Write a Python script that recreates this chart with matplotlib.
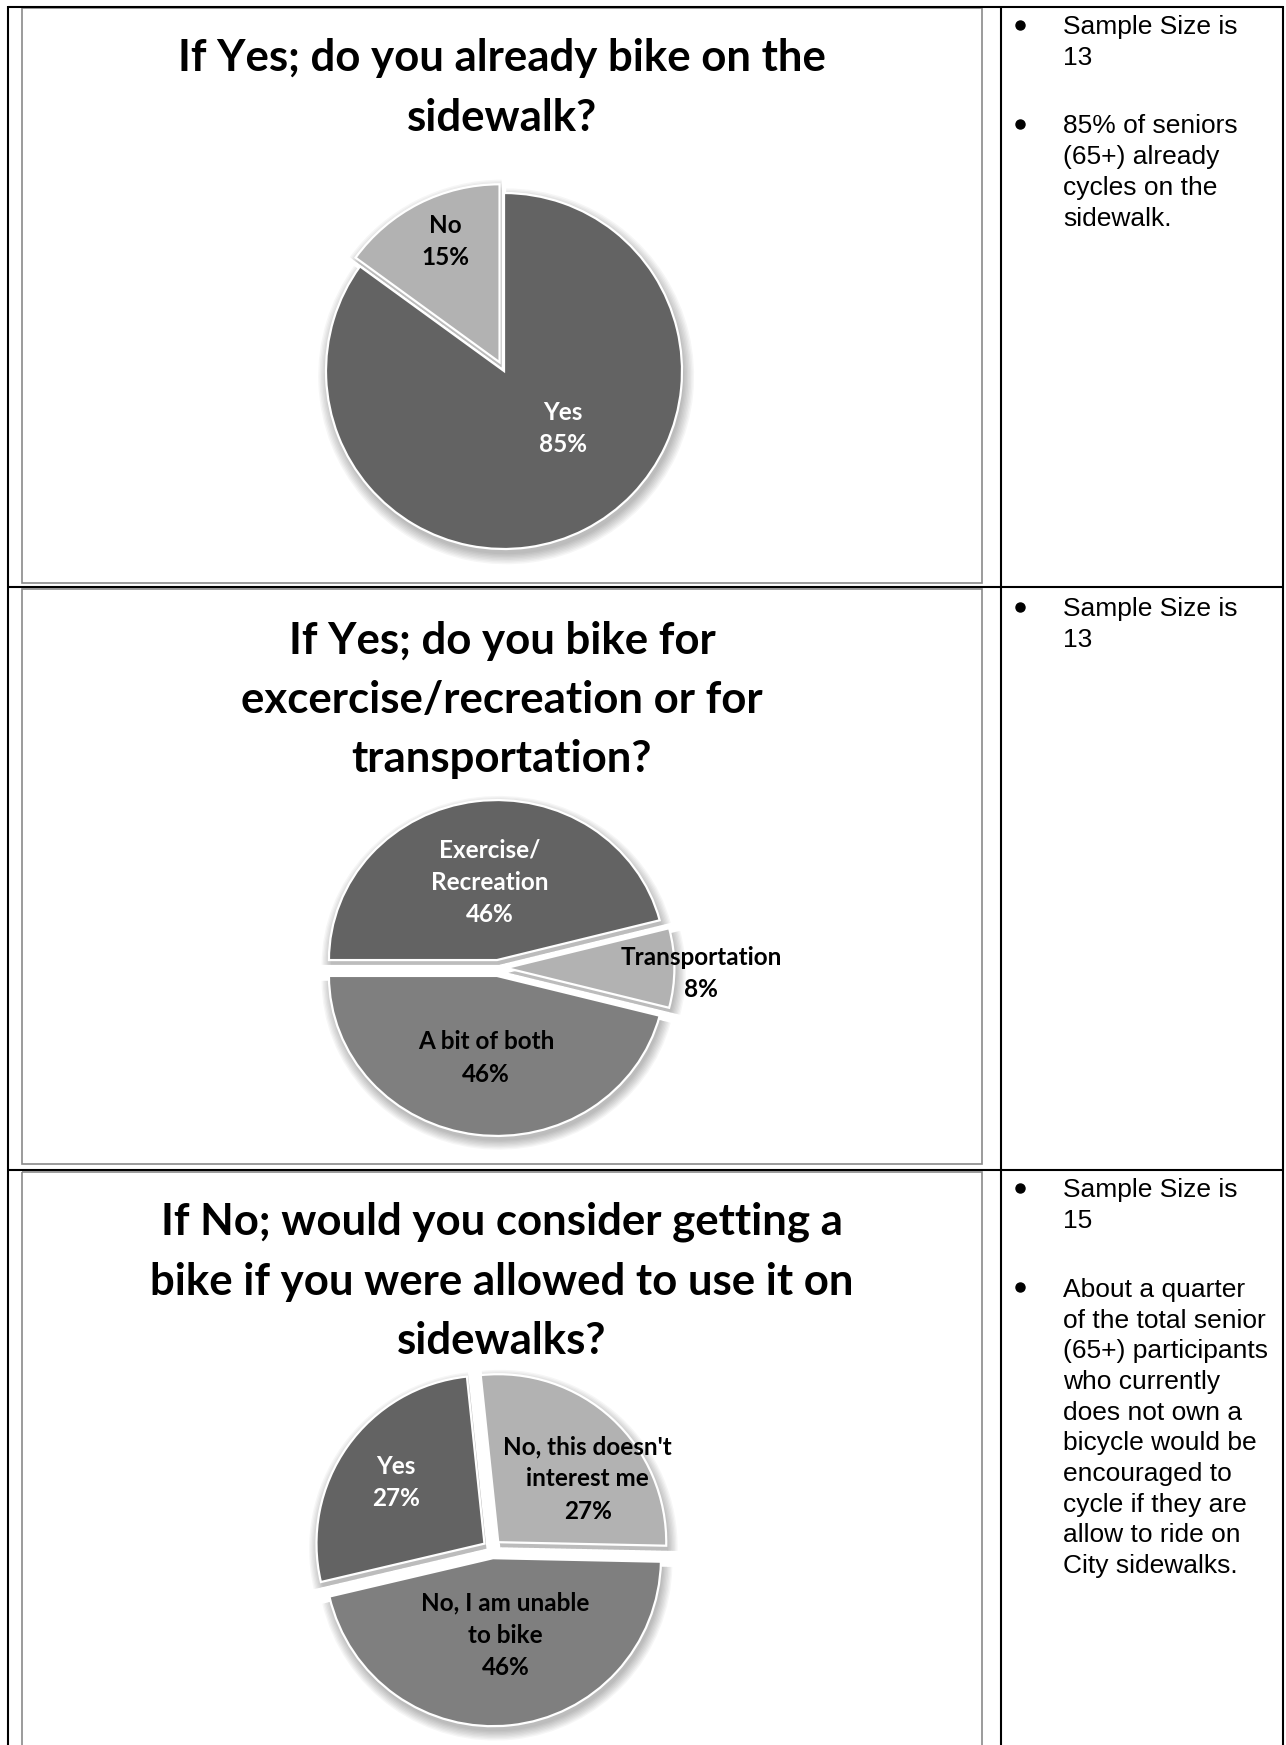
import matplotlib.pyplot as plt
import matplotlib.patches as mpatches

W, H = 1286, 1745

# chart data
q1_title = ["If Yes; do you already bike on the", "sidewalk?"]
q1_labels = [["Yes"], ["No"]]
q1_values = [85, 15]

q2_title = ["If Yes; do you bike for", "excercise/recreation or for", "transportation?"]
q2_labels = [["Exercise/", "Recreation"], ["Transportation"], ["A bit of both"]]
q2_values = [46, 8, 46]

q3_title = ["If No; would you consider getting a",
            "bike if you were allowed to use it on", "sidewalks?"]
q3_labels = [["No, this doesn't", "interest me"], ["No, I am unable", "to bike"], ["Yes"]]
q3_values = [27, 46, 27]

notes1 = [["Sample Size is", "13"],
          ["85% of seniors", "(65+) already", "cycles on the", "sidewalk."]]
notes2 = [["Sample Size is", "13"]]
notes3 = [["Sample Size is", "15"],
          ["About a quarter", "of the total senior", "(65+) participants", "who currently",
           "does not own a", "bicycle would be", "encouraged to", "cycle if they are",
           "allow to ride on", "City sidewalks."]]

DARK, MID, LIGHT = "#636363", "#7f7f7f", "#b2b2b2"
TITLE_FONT = "Lato"
NOTE_FONT = "Liberation Sans"

fig = plt.figure(figsize=(W / 100, H / 100), dpi=100)
bg = fig.add_axes([0, 0, 1, 1])
bg.set_xlim(0, W)
bg.set_ylim(H, 0)
bg.axis("off")
bg.set_zorder(5)

# table grid
black = dict(color="black", lw=1.5, solid_capstyle="butt")
bg.plot([8, 1283], [6.5, 6.5], **black)
bg.plot([8, 8], [6, H], **black)
bg.plot([1283, 1283], [6, H], **black)
bg.plot([1001, 1001], [6, H], **black)
bg.plot([8, 1283], [587, 587], **black)
bg.plot([8, 1283], [1170, 1170], **black)

# chart frames
for top, bot in [(8, 583), (589, 1164), (1172, H + 5)]:
    bg.add_patch(mpatches.Rectangle((22, top), 960, bot - top, fill=False,
                                    edgecolor="#8a8a8a", lw=1.2))


def put_lines(x, baseline, lines, step, **kw):
    for i, line in enumerate(lines):
        bg.text(x, baseline + i * step, line, va="baseline", **kw)


def draw_pie(cx, cy, rx, ry, values, colors, start, explode):
    pad = 1.4
    ax = fig.add_axes([(cx - pad * rx) / W, 1 - (cy + pad * ry) / H,
                       2 * pad * rx / W, 2 * pad * ry / H])
    wedges, _ = ax.pie(values, colors=colors, startangle=start, counterclock=False,
                       explode=explode, radius=1,
                       wedgeprops=dict(edgecolor="white", linewidth=1.6))
    # soft drop shadow
    for w in wedges:
        for k in range(8):
            ax.add_patch(mpatches.Wedge((w.center[0] + 0.012, w.center[1] - 0.03),
                                        w.r + 0.008 * k, w.theta1, w.theta2,
                                        facecolor="black", alpha=0.035, lw=0, zorder=0))
    ax.set_aspect("auto")
    ax.set_xlim(-pad, pad)
    ax.set_ylim(-pad, pad)
    ax.axis("off")
    return ax


def pie_labels(cx, cy, rx, ry, labels, values, offsets, colors):
    for lab, val, (ox, oy), c in zip(labels, values, offsets, colors):
        lines = lab + [f"{val}%"]
        x = cx + ox * rx
        ymid = cy - oy * ry
        step = 32.5
        first = ymid - step * (len(lines) - 1) / 2 + 8
        put_lines(x, first, lines, step, ha="center", color=c, fontsize=17.5,
                  fontweight="bold", family=TITLE_FONT)


def notes(y0, blocks, gap):
    y = y0
    for block in blocks:
        bg.plot(1020, y - 9.5, "o", color="black", markersize=6.5)
        put_lines(1063, y, block, 30.7, fontsize=19, family=NOTE_FONT, color="black")
        y += 30.7 * len(block) + gap


title_kw = dict(ha="center", fontsize=31.5, fontweight="bold", family=TITLE_FONT)

# chart 1
put_lines(502, 71, q1_title, 60, **title_kw)
draw_pie(504, 371, 178, 178, q1_values, [DARK, LIGHT], 90, [0, 0.055])
pie_labels(504, 371, 178, 178, q1_labels, q1_values,
           [(0.33, -0.32), (-0.33, 0.73)], ["white", "black"])
notes(34, notes1, 38)

# chart 2
put_lines(502, 654, q2_title, 59, **title_kw)
draw_pie(498, 968, 168, 160, q2_values, [DARK, LIGHT, MID], 180, [0.05, 0.05, 0.05])
pie_labels(498, 968, 168, 160, q2_labels, q2_values,
           [(-0.05, 0.54), (1.21, -0.03), (-0.07, -0.56)], ["white", "black", "black"])
notes(616, notes2, 38)

# chart 3
put_lines(502, 1235, q3_title, 59.5, **title_kw)
draw_pie(492, 1549, 168, 168, q3_values, [LIGHT, MID, DARK], 96, [0.055, 0.055, 0.055])
pie_labels(492, 1549, 168, 168, q3_labels, q3_values,
           [(0.57, 0.42), (0.08, -0.51), (-0.57, 0.40)], ["black", "black", "white"])
notes(1197.5, notes3, 38)

fig.savefig("out.png", dpi=100)
